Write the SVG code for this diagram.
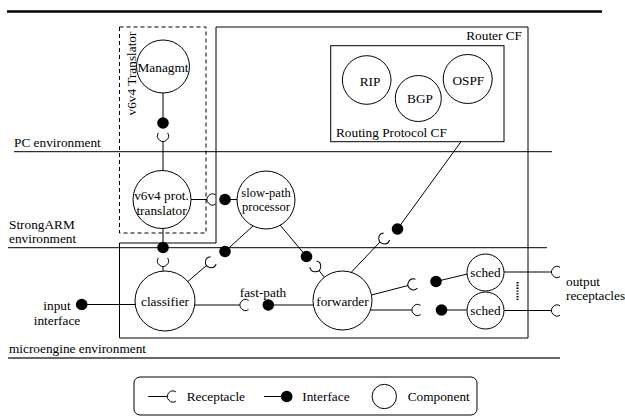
<svg xmlns="http://www.w3.org/2000/svg" xmlns:xlink="http://www.w3.org/1999/xlink" width="625" height="419" viewBox="0 0 625 419" font-family="'Liberation Serif', 'Times New Roman', serif">
<style>
  text { font-family: "Liberation Serif", "Times New Roman", serif; font-size: 13.3px; fill: #000; }
  .mid { text-anchor: middle; }
  .end { text-anchor: end; }
  .tight { font-size: 12.5px; }
  .comp { fill: #fff; stroke: #000; stroke-width: 1; }
  .ln { stroke: #000; stroke-width: 1; fill: none; }
  .cup { stroke: #000; stroke-width: 1; fill: none; }
  .dot { fill: #000; }
  .box { fill: none; stroke: #000; stroke-width: 1; }
  .env { stroke: #000; stroke-width: 1; }
</style>
<defs>
  <path id="rc" d="M8.6,-4.6 A5.5,5.5 0 1 0 8.6,4.6" class="cup"/>
</defs>
<rect width="625" height="419" fill="#fff"/>

<!-- top rule -->
<line x1="7" y1="11.5" x2="602" y2="11.5" stroke="#000" stroke-width="2.5"/>

<!-- environment lines -->
<g id="environments">
  <line class="env" x1="14" y1="151.7" x2="552" y2="151.7"/>
  <text x="14" y="146.5">PC environment</text>
  <line class="env" x1="8" y1="247.7" x2="547" y2="247.7"/>
  <text x="9" y="229">StrongARM</text>
  <text x="9" y="242.5">environment</text>
  <line x1="8" y1="358" x2="560" y2="358" stroke="#333" stroke-width="1.5"/>
  <text x="9" y="352.8">microengine environment</text>
</g>

<!-- frameworks -->
<g id="router-cf">
  <polygon class="box" points="216,27 528,27 528,338 119.5,338 119.5,243 216,243"/>
  <text class="end" x="522" y="40">Router CF</text>
</g>
<g id="v6v4-translator">
  <rect x="119.5" y="27" width="86.5" height="206" fill="none" stroke="#000" stroke-width="1" stroke-dasharray="4,3"/>
  <text transform="translate(136,73.5) rotate(-90)" class="mid" x="0" y="0">v6v4 Translator</text>
</g>
<g id="routing-protocol-cf">
  <rect class="box" x="330.7" y="45.7" width="173.3" height="96"/>
  <text x="336" y="137">Routing Protocol CF</text>
</g>

<!-- connectors -->
<g id="connectors">
  <!-- Managmt - v6v4 -->
  <line class="ln" x1="163" y1="93" x2="163" y2="123"/>
  <circle class="dot" cx="163" cy="123" r="5.8"/>
  <use xlink:href="#rc" href="#rc" transform="translate(163,141.5) rotate(-90)"/>
  <line class="ln" x1="163" y1="141.5" x2="163" y2="170.5"/>

  <!-- v6v4 - slow-path -->
  <line class="ln" x1="191" y1="199.5" x2="207" y2="199.5"/>
  <use xlink:href="#rc" href="#rc" transform="translate(207,199.5)"/>
  <circle class="dot" cx="225" cy="199.5" r="5.8"/>
  <line class="ln" x1="225" y1="199.5" x2="237" y2="199.5"/>

  <!-- v6v4 - classifier -->
  <line class="ln" x1="163" y1="228.5" x2="163" y2="247.5"/>
  <circle class="dot" cx="163" cy="247.5" r="5.8"/>
  <use xlink:href="#rc" href="#rc" transform="translate(163,266.5) rotate(-90)"/>
  <line class="ln" x1="163" y1="266.5" x2="163" y2="271"/>

  <!-- slow-path - classifier -->
  <line class="ln" x1="253.5" y1="225.5" x2="225" y2="251.5"/>
  <circle class="dot" cx="225" cy="251.5" r="5.8"/>
  <use xlink:href="#rc" href="#rc" transform="translate(206.5,265.5) rotate(-37)"/>
  <line class="ln" x1="206.5" y1="265.5" x2="187.8" y2="281.5"/>

  <!-- slow-path - forwarder -->
  <line class="ln" x1="280" y1="225" x2="306.5" y2="256.5"/>
  <circle class="dot" cx="306.5" cy="256.5" r="5.8"/>
  <use xlink:href="#rc" href="#rc" transform="translate(319,270.5) rotate(-132)"/>
  <line class="ln" x1="319" y1="270.5" x2="324.3" y2="277.3"/>

  <!-- forwarder - routing protocol CF -->
  <line class="ln" x1="351" y1="272.5" x2="380" y2="242"/>
  <use xlink:href="#rc" href="#rc" transform="translate(380,242) rotate(-40)"/>
  <circle class="dot" cx="397.5" cy="229" r="5.8"/>
  <line class="ln" x1="397.5" y1="229" x2="461" y2="141.7"/>

  <!-- input -->
  <circle class="dot" cx="81.7" cy="304.5" r="5.8"/>
  <line class="ln" x1="81.7" y1="304.5" x2="135.2" y2="304.5"/>

  <!-- fast-path -->
  <line class="ln" x1="194.7" y1="305" x2="240" y2="305"/>
  <use xlink:href="#rc" href="#rc" transform="translate(240,305)"/>
  <circle class="dot" cx="268.3" cy="305" r="5.8"/>
  <line class="ln" x1="268.3" y1="305" x2="313.3" y2="305"/>
  <text class="mid" x="263" y="296.5">fast-path</text>

  <!-- forwarder - sched1 -->
  <line class="ln" x1="371.5" y1="295" x2="408" y2="285.5"/>
  <use xlink:href="#rc" href="#rc" transform="translate(408,285.5) rotate(-12)"/>
  <circle class="dot" cx="436" cy="281.5" r="5.8"/>
  <line class="ln" x1="436" y1="281.5" x2="467.3" y2="274"/>

  <!-- forwarder - sched2 -->
  <line class="ln" x1="370.4" y1="310" x2="412" y2="310"/>
  <use xlink:href="#rc" href="#rc" transform="translate(412,310)"/>
  <circle class="dot" cx="441.5" cy="310" r="5.8"/>
  <line class="ln" x1="441.5" y1="310" x2="467" y2="310"/>

  <!-- outputs -->
  <line class="ln" x1="504" y1="272" x2="551.5" y2="272"/>
  <use xlink:href="#rc" href="#rc" transform="translate(551.5,272)"/>
  <line class="ln" x1="504" y1="310.5" x2="551.5" y2="310.5"/>
  <use xlink:href="#rc" href="#rc" transform="translate(551.5,310.5)"/>

  <line x1="517.5" y1="282" x2="517.5" y2="300" stroke="#000" stroke-width="2" stroke-dasharray="1.4,1.4"/>
</g>

<!-- labels -->
<g id="io-labels">
  <text class="mid" x="57" y="309.5">input</text>
  <text class="mid" x="57" y="325">interface</text>
  <text x="566" y="285.5">output</text>
  <text x="566" y="299.5">receptacles</text>
</g>

<!-- components -->
<g id="managmt">
  <circle class="comp" cx="163" cy="66.5" r="26.5"/>
  <text class="mid" x="163" y="71.5">Managmt</text>
</g>
<g id="rip">
  <circle class="comp" cx="366.7" cy="80" r="24.3"/>
  <text class="mid" x="370" y="85.5">RIP</text>
</g>
<g id="bgp">
  <circle class="comp" cx="418.3" cy="98.5" r="23"/>
  <text class="mid" x="420" y="103">BGP</text>
</g>
<g id="ospf">
  <circle class="comp" cx="467.7" cy="79" r="24.5"/>
  <text class="mid" x="468.3" y="84.5">OSPF</text>
</g>
<g id="v6v4-prot-translator">
  <circle class="comp" cx="162" cy="199.5" r="29"/>
  <text class="mid" x="161.5" y="199.5">v6v4 prot.</text>
  <text class="mid" x="161.5" y="214.8">translator</text>
</g>
<g id="slow-path-processor">
  <circle class="comp" cx="266" cy="200" r="29"/>
  <text class="mid tight" x="266" y="197">slow-path</text>
  <text class="mid tight" x="266" y="211.3">processor</text>
</g>
<g id="classifier">
  <circle class="comp" cx="165" cy="301" r="30"/>
  <text class="mid" x="165" y="305.5">classifier</text>
</g>
<g id="forwarder">
  <circle class="comp" cx="342.5" cy="300.5" r="29.5"/>
  <text class="mid" x="342.5" y="305.5">forwarder</text>
</g>
<g id="sched1">
  <circle class="comp" cx="485.5" cy="272.5" r="18.5"/>
  <text class="mid" x="485.5" y="277">sched</text>
</g>
<g id="sched2">
  <circle class="comp" cx="485.5" cy="310.5" r="18.5"/>
  <text class="mid" x="485.5" y="315">sched</text>
</g>

<!-- legend -->
<g id="legend">
  <rect x="134" y="377" width="343" height="38" rx="6" ry="6" fill="none" stroke="#000" stroke-width="1"/>
  <line class="ln" x1="148.3" y1="396.5" x2="167.3" y2="396.5"/>
  <use xlink:href="#rc" href="#rc" transform="translate(167.3,396.5)"/>
  <text x="186.7" y="401">Receptacle</text>
  <line class="ln" x1="264" y1="396.5" x2="286.7" y2="396.5"/>
  <circle class="dot" cx="286.7" cy="396.5" r="5.8"/>
  <text x="302.3" y="401">Interface</text>
  <circle class="comp" cx="384.3" cy="396.5" r="12.2"/>
  <text x="407.7" y="401">Component</text>
</g>
</svg>
